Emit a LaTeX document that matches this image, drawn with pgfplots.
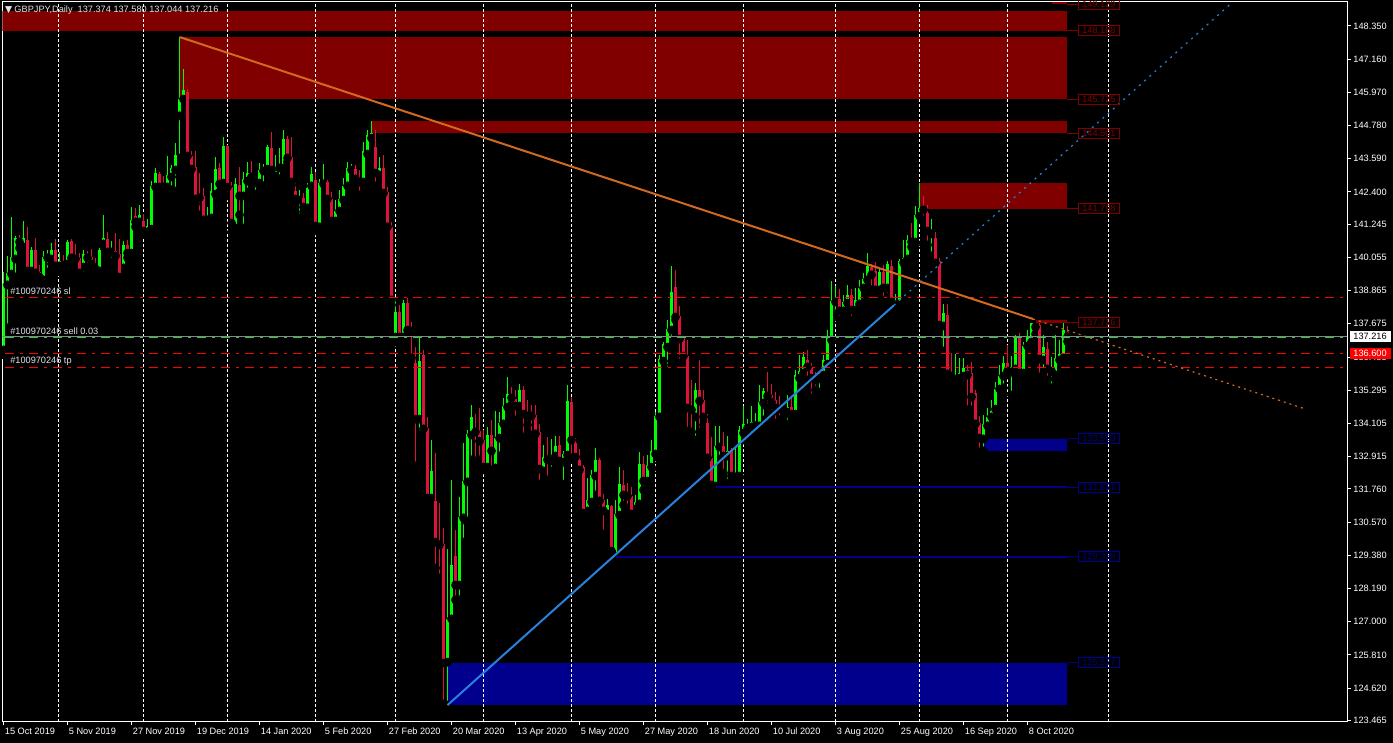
\documentclass[border=0pt]{standalone}
\usepackage{fontspec}
\setmainfont{Liberation Sans}
\newfontfamily\symfont{DejaVu Sans}
\usepackage{pgfplots}
\usepackage{pgfplotstable}
\pgfplotsset{compat=1.18}

\definecolor{bull}{RGB}{0,255,0}
\definecolor{bear}{RGB}{220,20,60}
\definecolor{zred}{RGB}{128,0,0}
\definecolor{zblue}{RGB}{0,0,140}
\definecolor{trendor}{RGB}{210,105,30}
\definecolor{trendbl}{RGB}{40,130,220}
\definecolor{lvlred}{RGB}{255,0,0}
\definecolor{lvlgreen}{RGB}{50,205,50}
\definecolor{bidgray}{RGB}{128,136,150}
\definecolor{txt}{RGB}{225,228,235}

\newcommand\mtfont{\fontsize{4.6}{5.5}\selectfont}
% price tag of a zone: level, colour
\newcommand\ztag[2]{%
  \draw[#2, line width=0.5pt] (axis cs:265.8,#1) -- (axis cs:268.6,#1);
  \node[draw=#2, text=#2, line width=0.5pt, anchor=west, inner sep=0pt,
        minimum width=20.5pt, minimum height=5pt, font=\mtfont] at (axis cs:268.6,#1) {#1};}
\tikzset{dashdot mt/.style={line width=0.8pt, dash pattern=on 4.5pt off 3pt on 1.5pt off 3pt}}

% GBPJPY daily bars: index, open, high, low, close
\pgfplotstableread{
i o h l c
0 136.74 139.53 136.56 139.14
1 139.07 140.11 137.53 139.50
2 139.46 141.51 139.25 140.07
3 140.00 140.82 139.35 140.75
4 140.75 140.86 140.39 140.61
5 140.43 141.36 140.32 140.75
6 140.68 141.15 139.32 139.57
7 139.57 140.43 139.32 140.32
8 140.32 140.75 139.14 139.50
9 139.53 139.78 139.21 139.35
10 139.25 140.29 139.14 140.07
11 140.04 140.32 139.53 140.11
12 140.00 140.57 139.82 140.32
13 140.32 140.72 139.50 139.75
14 139.75 140.25 139.60 139.93
15 139.93 140.14 139.53 139.78
16 139.82 140.68 139.68 140.61
17 140.64 140.72 139.89 140.04
18 140.07 140.54 139.71 140.00
19 140.04 140.21 139.25 139.50
20 139.71 140.32 139.39 140.18
21 140.11 140.29 139.68 140.04
22 140.07 140.36 139.60 139.82
23 139.78 140.04 139.50 139.64
24 139.57 140.39 139.32 140.32
25 140.54 141.58 140.25 140.75
26 140.72 140.97 139.96 140.25
27 140.25 140.64 139.89 140.39
28 140.29 140.93 139.82 140.11
29 140.18 140.72 139.25 139.35
30 139.68 140.64 139.39 140.50
31 140.50 140.68 140.04 140.21
32 140.21 141.86 140.11 141.40
33 141.54 141.83 141.15 141.33
34 141.33 141.93 141.18 141.58
35 141.36 141.61 140.90 141.00
36 140.97 141.43 140.82 141.18
37 141.07 142.79 140.82 142.62
38 142.58 143.26 142.47 143.08
39 143.05 143.12 142.32 142.58
40 142.65 142.97 142.47 142.58
41 142.58 143.69 142.47 143.01
42 142.94 143.37 142.47 143.26
43 143.19 144.15 142.43 143.73
44 145.13 147.96 143.62 145.73
45 145.73 146.81 145.70 146.06
46 145.98 146.09 143.44 143.69
47 143.69 143.87 143.05 143.22
48 143.30 143.87 141.97 142.15
49 142.26 143.08 141.58 142.19
50 142.26 142.54 141.15 141.40
51 141.40 141.86 141.18 141.51
52 141.47 142.72 141.33 142.43
53 142.32 143.65 142.01 143.22
54 143.26 143.44 142.40 142.69
55 142.72 144.37 142.40 144.05
56 144.05 144.08 142.26 142.58
57 142.58 142.76 140.97 141.29
58 141.11 142.90 140.79 142.69
59 142.65 143.30 141.58 142.26
60 142.26 143.12 141.11 142.87
61 142.79 143.48 142.40 143.08
62 143.08 143.51 142.87 142.94
63 142.72 142.97 142.32 142.76
64 142.72 143.44 142.43 143.19
65 143.15 143.40 142.62 143.30
66 143.22 144.08 143.12 144.01
67 143.98 144.55 143.01 143.19
68 142.97 143.73 142.79 143.30
69 143.26 143.98 142.87 143.33
70 143.26 144.62 143.22 144.30
71 144.30 144.40 143.48 143.62
72 143.65 144.37 142.65 142.76
73 142.43 142.76 142.04 142.15
74 142.11 142.47 141.47 142.19
75 142.19 142.36 141.69 141.86
76 141.83 142.72 141.65 142.54
77 142.62 143.30 142.47 143.05
78 142.83 143.12 141.04 141.18
79 141.15 142.87 140.90 142.72
80 142.69 143.40 142.47 142.76
81 142.76 142.83 142.11 142.15
82 142.15 142.40 141.22 141.36
83 141.36 142.11 141.22 141.72
84 141.72 142.47 141.58 142.15
85 142.11 142.90 142.01 142.62
86 142.62 143.48 142.47 143.26
87 143.19 143.40 143.01 143.20
88 143.22 143.37 142.65 142.87
89 142.87 143.19 142.29 142.76
90 142.76 144.19 142.69 143.87
91 143.76 144.62 143.69 144.44
92 144.33 144.95 144.26 144.51
93 144.01 144.62 142.62 143.08
94 143.01 143.65 142.83 143.26
95 143.26 143.73 142.26 142.36
96 142.40 142.58 140.97 141.15
97 141.15 141.33 138.35 138.53
98 137.20 138.53 137.02 138.10
99 138.10 138.35 137.09 137.20
100 137.20 138.53 137.02 138.42
101 138.42 138.60 137.27 137.45
102 137.45 137.74 136.45 137.42
103 136.27 136.84 132.58 134.26
104 134.26 137.20 133.69 136.34
105 136.56 136.74 133.80 133.91
106 133.94 134.34 131.25 131.43
107 131.43 133.51 131.25 132.40
108 131.33 133.04 128.92 129.85
109 129.89 131.25 128.57 129.75
110 129.78 130.36 124.05 125.52
111 125.55 129.60 124.01 127.10
112 127.10 132.08 127.06 129.03
113 129.35 130.29 127.78 128.31
114 128.31 131.47 127.78 130.75
115 130.72 133.40 129.85 132.04
116 132.01 133.87 130.54 133.73
117 133.69 134.77 132.80 134.34
118 133.87 134.44 132.76 133.80
119 133.83 134.66 132.80 133.47
120 133.51 133.87 132.44 132.54
121 132.54 133.98 132.44 133.69
122 133.69 134.23 132.44 133.12
123 132.51 134.55 132.44 133.58
124 133.58 134.51 132.94 134.12
125 134.09 135.02 133.87 134.73
126 134.69 135.77 134.55 135.16
127 135.16 135.41 134.77 135.02
128 134.98 135.30 134.23 134.73
129 134.73 135.52 134.59 135.30
130 135.30 135.45 133.62 134.44
131 134.48 134.95 134.05 134.37
132 134.41 134.77 133.69 134.37
133 134.41 134.77 133.66 133.73
134 133.80 134.09 131.93 132.47
135 132.40 133.33 132.22 132.90
136 132.94 133.62 132.08 132.80
137 132.76 133.55 132.40 132.90
138 132.94 133.66 132.80 133.30
139 133.33 133.66 132.72 132.76
140 132.72 133.12 131.93 133.01
141 132.97 135.48 132.80 134.91
142 134.87 135.05 132.87 133.51
143 133.40 133.58 132.72 132.90
144 132.80 133.19 132.33 132.44
145 132.54 132.60 130.82 130.89
146 130.97 132.15 130.64 131.36
147 131.29 132.44 131.07 132.26
148 132.22 133.22 131.54 132.80
149 132.80 132.87 131.00 131.33
150 131.36 131.58 130.14 130.97
151 130.86 131.40 130.64 131.18
152 131.15 131.18 129.50 129.53
153 129.35 131.36 129.33 130.86
154 130.82 132.54 130.64 131.93
155 131.90 132.44 131.18 131.54
156 131.65 131.97 131.00 131.50
157 131.50 131.83 130.72 130.86
158 131.04 131.54 130.93 131.29
159 131.22 133.08 131.15 132.65
160 132.65 132.94 131.72 132.04
161 132.04 132.97 131.83 132.62
162 132.54 133.51 132.44 133.12
163 133.01 134.51 132.90 134.37
164 134.34 136.56 134.23 136.41
165 136.34 137.02 136.20 136.95
166 136.84 137.81 135.98 137.49
167 137.45 139.75 137.09 138.82
168 139.00 139.60 137.81 137.92
169 137.96 138.31 136.20 137.13
170 137.17 137.24 136.38 136.52
171 136.52 137.09 133.83 134.66
172 134.66 135.66 133.80 134.59
173 134.34 135.56 133.51 135.30
174 135.30 136.38 133.80 134.91
175 134.95 135.30 134.05 134.34
176 134.12 134.44 132.83 132.87
177 132.87 133.62 131.83 131.90
178 131.86 134.02 131.82 133.30
179 133.26 134.02 132.80 133.40
180 133.30 133.80 132.33 132.94
181 132.94 133.66 131.90 133.12
182 133.15 133.22 132.08 132.22
183 132.19 133.26 131.90 132.33
184 132.22 134.02 132.15 133.87
185 133.76 134.73 133.51 134.09
186 133.94 134.26 133.62 134.02
187 133.98 134.73 133.87 134.16
188 134.02 134.48 133.80 134.16
189 134.02 135.48 133.87 134.87
190 134.84 135.38 134.23 135.27
191 135.23 135.95 134.66 135.09
192 135.12 135.52 134.44 134.87
193 134.95 135.23 134.05 134.66
194 134.69 135.09 134.23 134.62
195 134.66 134.80 134.34 134.59
196 134.51 135.12 134.05 134.69
197 134.69 135.02 134.19 134.44
198 134.44 136.02 134.37 135.84
199 135.73 136.56 135.59 135.98
200 135.91 136.66 135.84 136.48
201 136.38 136.74 135.66 136.13
202 136.13 136.27 135.02 135.73
203 135.77 135.95 135.30 135.66
204 135.73 135.98 135.23 135.88
205 135.84 136.56 135.59 136.38
206 136.23 137.45 136.13 137.17
207 137.09 139.21 137.02 138.49
208 138.46 139.03 137.99 138.56
209 138.56 138.93 137.81 138.14
210 138.14 138.71 137.99 138.46
211 138.42 139.07 138.28 138.71
212 138.71 138.93 137.81 138.17
213 138.17 138.96 138.10 138.53
214 138.39 139.25 138.24 138.96
215 138.96 139.50 138.78 139.28
216 139.25 140.21 139.10 139.75
217 139.71 139.82 138.89 139.43
218 139.57 139.89 138.64 138.89
219 138.89 139.68 138.60 139.53
220 139.53 139.78 138.53 138.96
221 138.96 139.93 138.64 139.82
222 139.75 139.96 138.24 138.46
223 138.35 138.75 138.21 138.46
224 138.39 140.00 138.35 139.93
225 139.86 140.68 139.60 140.04
226 140.00 140.86 139.82 140.68
227 140.68 141.29 140.43 140.61
228 140.61 141.90 140.50 141.58
229 141.54 142.72 141.40 141.83
230 141.86 142.26 141.40 141.76
231 141.65 141.93 140.50 141.00
232 140.90 141.43 140.11 141.04
233 140.75 140.97 139.57 139.86
234 139.93 140.04 137.56 137.63
235 137.60 138.39 136.70 138.06
236 137.99 138.39 135.56 135.88
237 135.84 136.63 135.56 135.80
238 135.59 136.59 135.48 135.84
239 135.73 136.45 135.52 135.91
240 135.80 136.45 135.48 136.09
241 136.02 136.20 134.59 135.84
242 135.91 136.31 134.59 135.05
243 135.20 135.30 133.80 134.09
244 134.12 134.37 133.08 133.58
245 133.55 134.41 133.12 134.09
246 134.02 134.66 133.87 134.34
247 134.34 134.95 134.09 134.55
248 134.62 135.59 134.51 135.34
249 135.34 136.20 135.23 135.80
250 135.80 136.52 135.38 136.27
251 136.27 136.92 135.84 135.98
252 135.95 136.52 135.12 136.13
253 136.06 137.27 136.02 137.20
254 137.20 137.35 135.73 135.91
255 135.91 137.02 135.84 136.88
256 136.88 137.45 136.70 137.20
257 137.02 137.72 136.99 137.70
258 137.70 137.72 137.31 137.56
259 137.63 137.70 135.77 136.41
260 136.38 137.27 135.91 136.84
261 136.77 137.02 135.66 136.06
262 135.98 136.48 135.38 136.13
263 135.84 137.27 135.73 136.45
264 136.38 137.09 136.31 136.59
265 136.45 137.70 136.38 137.45
266 137.374 137.580 137.044 137.216
}\candles

\begin{document}
\begin{tikzpicture}
\fill[black] (0,0) rectangle (696.5pt,371.5pt);
\begin{axis}[
  at={(1.25pt,10.5pt)}, anchor=south west,
  scale only axis, width=672.25pt, height=360pt,
  xmin=-0.25, xmax=335.875, ymin=123.404, ymax=149.21,
  clip mode=individual,
  axis line style={white, line width=0.5pt},
  tick style={white, line width=0.5pt},
  tick align=outside, major tick length=1.75pt,
  xtick pos=bottom, ytick pos=right, yticklabel pos=right,
  xtick={0,16,32,48,64,80,96,112,128,144,160,176,192,208,224,240,256},
  xticklabels={15 Oct 2019,5 Nov 2019,27 Nov 2019,19 Dec 2019,14 Jan 2020,5 Feb 2020,27 Feb 2020,20 Mar 2020,13 Apr 2020,5 May 2020,27 May 2020,18 Jun 2020,10 Jul 2020,3 Aug 2020,25 Aug 2020,16 Sep 2020,8 Oct 2020},
  ytick={148.350,147.160,145.970,144.780,143.590,142.400,141.245,140.055,138.865,137.675,136.485,135.295,134.105,132.915,131.760,130.570,129.380,128.190,127.000,125.810,124.620,123.465},
  yticklabels={148.350,147.160,145.970,144.780,143.590,142.400,141.245,140.055,138.865,137.675,136.485,135.295,134.105,132.915,131.760,130.570,129.380,128.190,127.000,125.810,124.620,123.465},
  tick label style={font=\mtfont, text=white, inner sep=0pt},
  xticklabel style={anchor=north west, xshift=0.5pt, yshift=-1pt},
  yticklabel style={anchor=west, xshift=1.25pt},
]

% zones
\addplot[fill=zred, draw=none, forget plot] coordinates {(-0.25,148.188) (265.8,148.188) (265.8,148.888) (-0.25,148.888)} --cycle;
\addplot[fill=zred, draw=none, forget plot] coordinates {(44,145.725) (265.8,145.725) (265.8,147.956) (44,147.956)} --cycle;
\addplot[fill=zred, draw=none, forget plot] coordinates {(92.1,144.501) (265.8,144.501) (265.8,144.95) (92.1,144.95)} --cycle;
\addplot[fill=zred, draw=none, forget plot] coordinates {(228.9,141.798) (265.8,141.798) (265.8,142.72) (228.9,142.72)} --cycle;
\addplot[fill=zred, draw=none, forget plot] coordinates {(258,137.716) (265.8,137.716) (265.8,137.82) (258,137.82)} --cycle;
\addplot[fill=zred, draw=none, forget plot] coordinates {(262,149.129) (265.8,149.129) (265.8,149.21) (262,149.21)} --cycle;
\addplot[fill=zblue, draw=none, forget plot] coordinates {(111,124.01) (265.8,124.01) (265.8,125.527) (111,125.527)} --cycle;
\addplot[fill=zblue, draw=none, forget plot] coordinates {(244.9,133.12) (265.8,133.12) (265.8,133.56) (244.9,133.56)} --cycle;

% period separators
\pgfplotsinvokeforeach{13.875,34.875,55.875,77.875,97.875,119.875,141.875,162.875,184.875,207.875,228.875,250.875,276.125}{
  \addplot[white, line width=0.5pt, dash pattern=on 1.5pt off 1pt, forget plot] coordinates {(#1,123.404) (#1,149.21)};
}

% candles
\addplot[only marks, mark=none, forget plot,
  error bars/.cd, y dir=plus, y explicit, error mark=none,
  error bar style={bull, line width=0.5pt}]
  table[x=i, y expr={\thisrow{c}>=\thisrow{o} ? \thisrow{l} : nan},
        y error plus expr={\thisrow{h}-\thisrow{l}}] {\candles};
\addplot[only marks, mark=none, forget plot,
  error bars/.cd, y dir=plus, y explicit, error mark=none,
  error bar style={bull, line width=1.5pt}]
  table[x=i, y expr={\thisrow{c}>=\thisrow{o} ? \thisrow{o} : nan},
        y error plus expr={max(\thisrow{c}-\thisrow{o},0.03)}] {\candles};
\addplot[only marks, mark=none, forget plot,
  error bars/.cd, y dir=plus, y explicit, error mark=none,
  error bar style={bear, line width=0.5pt}]
  table[x=i, y expr={\thisrow{c}<\thisrow{o} ? \thisrow{l} : nan},
        y error plus expr={\thisrow{h}-\thisrow{l}}] {\candles};
\addplot[only marks, mark=none, forget plot,
  error bars/.cd, y dir=plus, y explicit, error mark=none,
  error bar style={bear, line width=1.5pt}]
  table[x=i, y expr={\thisrow{c}<\thisrow{o} ? \thisrow{c} : nan},
        y error plus expr={max(\thisrow{o}-\thisrow{c},0.03)}] {\candles};

% order levels (stop loss, open price, alert, take profit)
\addplot[lvlred, dashdot mt, forget plot] coordinates {(0.4,138.619) (335.4,138.619)};
\addplot[bidgray, line width=0.5pt, forget plot] coordinates {(-0.25,137.221) (335.875,137.221)};
\addplot[lvlgreen, dashdot mt, line width=0.6pt, forget plot] coordinates {(0.4,137.185) (335.4,137.185)};
\addplot[lvlred, dashdot mt, forget plot] coordinates {(0.4,136.612) (335.4,136.612)};
\addplot[lvlred, dashdot mt, forget plot] coordinates {(0.4,136.110) (335.4,136.110)};

% support levels
\addplot[zblue, line width=1pt, forget plot] coordinates {(178,131.821) (265.8,131.821)};
\addplot[zblue, line width=1pt, forget plot] coordinates {(153,129.328) (265.8,129.328)};

% trend lines
\addplot[trendor, line width=1pt, forget plot] coordinates {(44,147.956) (257.4,137.848)};
\addplot[trendor, line width=0.6pt, dash pattern=on 1pt off 2pt, forget plot] coordinates {(257.4,137.848) (325.1,134.64)};
\addplot[trendbl, line width=1pt, forget plot] coordinates {(111,124.01) (222.6,138.34)};
\addplot[trendbl, line width=0.6pt, dash pattern=on 1pt off 2.5pt, forget plot] coordinates {(222.6,138.34) (306.6,149.12)};

% price tags of the zones
\ztag{149.129}{zred}
\ztag{148.188}{zred}
\ztag{145.725}{zred}
\ztag{144.501}{zred}
\ztag{141.798}{zred}
\ztag{137.716}{zred}
\ztag{133.560}{zblue}
\ztag{131.821}{zblue}
\ztag{129.328}{zblue}
\ztag{125.527}{zblue}

% order labels
\node[anchor=west, inner sep=0pt, text=txt, font=\mtfont] at (axis cs:1.6,138.85) {\#100970246 sl};
\node[anchor=west, inner sep=0pt, text=txt, font=\mtfont] at (axis cs:1.6,137.418) {\#100970246 sell 0.03};
\node[anchor=west, inner sep=0pt, text=txt, font=\mtfont] at (axis cs:1.6,136.343) {\#100970246 tp};

\coordinate (bid) at (axis cs:336.4,137.216);
\coordinate (alrt) at (axis cs:336.4,136.600);
\end{axis}

\node[anchor=west, fill=white, text=black, inner sep=0pt, minimum width=20.5pt, minimum height=5.5pt, font=\mtfont] at (bid) {137.216};
\node[anchor=west, fill=red, text=white, inner sep=0pt, minimum width=20.5pt, minimum height=5.5pt, font=\mtfont] at (alrt) {136.600};

\node[anchor=west, inner sep=0pt, text=txt, font=\mtfont] at (2.3pt,366.5pt) {{\symfont ▼}\kern1.2pt GBPJPY,Daily\ \ 137.374 137.580 137.044 137.216};

\pgfresetboundingbox
\path[use as bounding box] (0,0) rectangle (696.5pt,371.5pt);
\end{tikzpicture}
\end{document}
